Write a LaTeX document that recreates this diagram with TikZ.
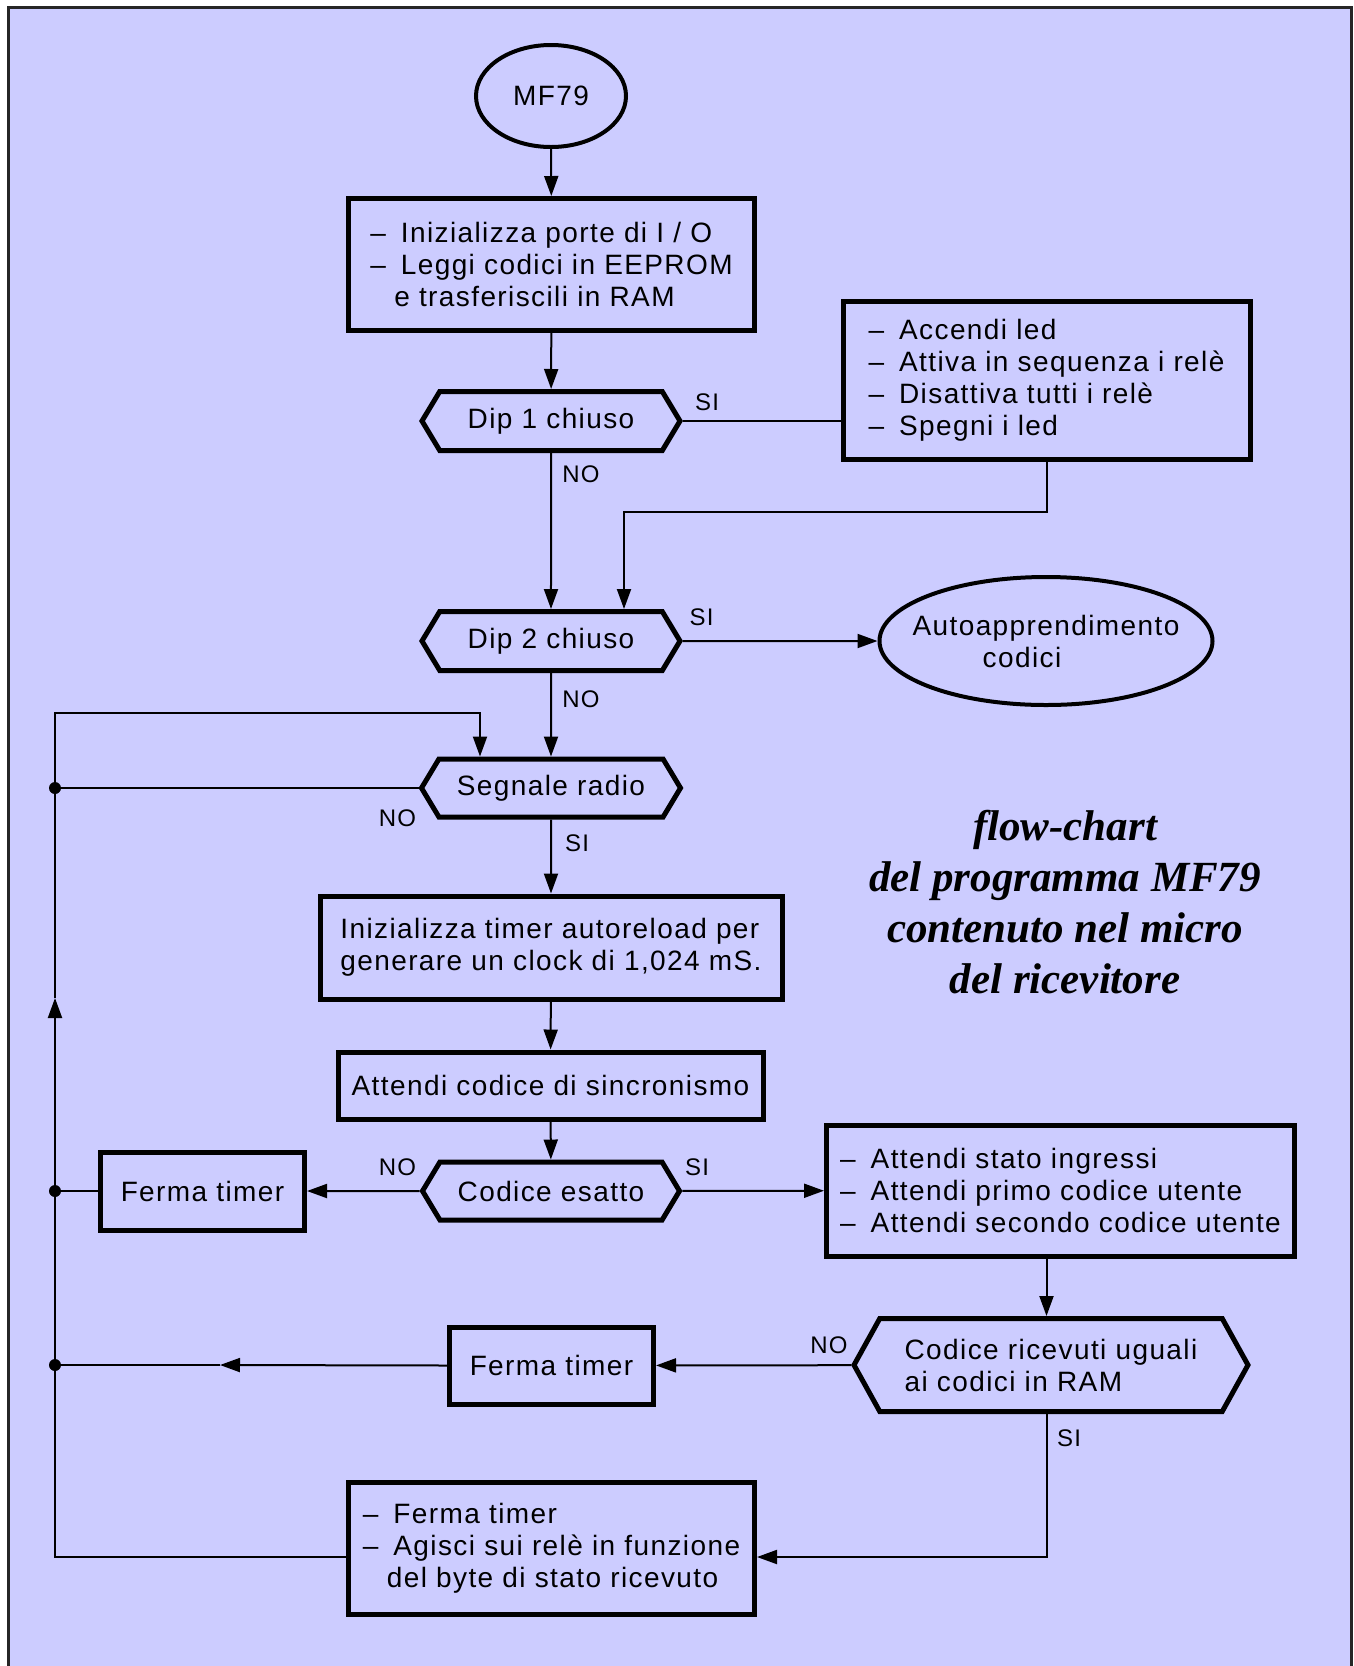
\documentclass[tikz,border=0pt]{standalone}
\usepackage{fontspec}
\setmainfont[LetterSpace=5]{Liberation Sans}
\newfontfamily\titlefont{Liberation Serif}
\usetikzlibrary{shapes.geometric,shapes.symbols,arrows.meta}
\definecolor{sheet}{RGB}{204,204,255}
\newcommand{\dashitem}{–\hspace{15pt}}

\begin{document}
\begin{tikzpicture}
    [x=1pt,y=-1pt,>={Triangle[length=20pt,width=14pt]},line width=2pt,
     every node/.style={font=\fontsize{28}{32}\selectfont},
     terminal/.style={ellipse,draw,line width=4pt,inner sep=0pt,align=center},
     block/.style={rectangle,draw,line width=5pt,inner sep=0pt,align=left},
     test/.style={signal,signal to=east and west,signal pointer angle=118,draw,line width=5pt,inner sep=0pt,align=left},
     answer/.style={font=\fontsize{24}{28}\selectfont},
     junction/.style={circle,fill,inner sep=0pt,minimum size=12pt}]
    %Sheet
    \useasboundingbox (0,0) rectangle (1353,1666);
    \fill[sheet] (8.5,7.5) rectangle (1351.5,1666);
    \draw[line width=3pt,black!85] (8.5,1666) -- (8.5,7.5) -- (1351.5,7.5) -- (1351.5,1666);

    %Nodes
    \node[terminal,minimum width=150pt,minimum height=102pt] (start) at (551,96){MF79};
    \node[block,minimum width=406pt,minimum height=132pt] (init) at (551.5,264.5){\dashitem Inizializza porte di I / O\\\dashitem Leggi codici in EEPROM\\\hspace*{24pt}e trasferiscili in RAM};
    \node[test,minimum width=258pt,minimum height=59pt] (dipA) at (551,421){Dip 1 chiuso};
    \node[block,minimum width=407pt,minimum height=158pt] (led) at (1046.5,380){\dashitem Accendi led\\\dashitem Attiva in sequenza i relè\\\dashitem Disattiva tutti i relè\\\dashitem Spegni i led};
    \node[test,minimum width=258pt,minimum height=59pt] (dipB) at (551,641){Dip 2 chiuso};
    \node[terminal,inner xsep=-17pt,minimum width=333pt,minimum height=128pt] (auto) at (1046,641){Autoapprendimento\\codici\hspace*{48pt}};
    \node[test,minimum width=259pt,minimum height=58pt] (radio) at (551,788){Segnale radio};
    \node[block,minimum width=462pt,minimum height=103pt] (timer) at (551,947.5){Inizializza timer autoreload per\\generare un clock di 1,024 mS.};
    \node[block,minimum width=425pt,minimum height=67pt] (sync) at (550.5,1085.5){Attendi codice di sincronismo};
    \node[test,minimum width=257pt,minimum height=58pt] (esatto) at (551,1191){Codice esatto};
    \node[block,minimum width=204pt,minimum height=78pt] (stopA) at (202.5,1191){Ferma timer};
    \node[block,minimum width=468pt,minimum height=131pt] (wait) at (1060.5,1190.5){\dashitem Attendi stato ingressi\\\dashitem Attendi primo codice utente\\\dashitem Attendi secondo codice utente};
    \node[test,signal pointer angle=122,minimum width=394pt,minimum height=93pt] (equal) at (1051,1365){Codice ricevuti uguali\\ai codici in RAM};
    \node[block,minimum width=204pt,minimum height=77pt] (stopB) at (551.5,1365.5){Ferma timer};
    \node[block,minimum width=406pt,minimum height=132pt] (act) at (551.5,1548){\dashitem Ferma timer\\\dashitem Agisci sui relè in funzione\\\hspace*{24pt}del byte di stato ricevuto};
    \node[font={\titlefont\fontsize{43}{51}\selectfont\bfseries\itshape},align=center] (title) at (1065,902){flow-chart\\del programma MF79\\contenuto nel micro\\del ricevitore};

    \node[junction] (dotA) at (55,788){};
    \node[junction] (dotB) at (55,1191){};
    \node[junction] (dotC) at (55,1365){};
    \coordinate (back) at (55,1557);
    \coordinate (up) at (55,998);
    \coordinate (top) at (480,713);
    \coordinate (bendA) at (624,512);
    \coordinate (midB) at (220,1365);

    %Labels
    \node[answer] (siA) at (707,402){SI};
    \node[answer] (noA) at (581,474){NO};
    \node[answer] (siB) at (701.5,617.5){SI};
    \node[answer] (noB) at (581,699){NO};
    \node[answer] (noC) at (397.5,818){NO};
    \node[answer] (siC) at (577,843){SI};
    \node[answer] (noD) at (397.5,1167){NO};
    \node[answer] (siD) at (697,1167){SI};
    \node[answer] (noE) at (829,1345.5){NO};
    \node[answer] (siE) at (1069,1438){SI};

    %Edges
    \draw[->] (start) -- (init);
    \draw[->] (init) -- (dipA);
    \draw (dipA.east) -- (dipA.east -| led.west);
    \draw[->] (dipA) -- (dipB);
    \draw[->] (led.south) |- (bendA) -- (bendA |- dipB.north);
    \draw[->] (dipB) -- (auto);
    \draw[->] (dipB) -- (radio);
    \draw (radio.west) -- (dotA.center);
    \draw[->] (act.west |- back) -- (back) -- (up);
    \draw[->] (up) |- (top) -- (top |- radio.north);
    \draw[->] (radio) -- (timer);
    \draw[->] (timer) -- (sync);
    \draw[->] (sync) -- (esatto);
    \draw[->] (esatto) -- (stopA);
    \draw (stopA.west) -- (dotB.center);
    \draw[->] (esatto) -- (wait);
    \draw[->] (wait.south -| led.south) -- (led.south |- equal.north);
    \draw[->] (equal) -- (stopB);
    \draw[->] (stopB.west) -- (midB);
    \draw (midB) -- (dotC.center);
    \draw[->] (equal.south -| led.south) |- (act.east |- back);

\end{tikzpicture}
\end{document}
